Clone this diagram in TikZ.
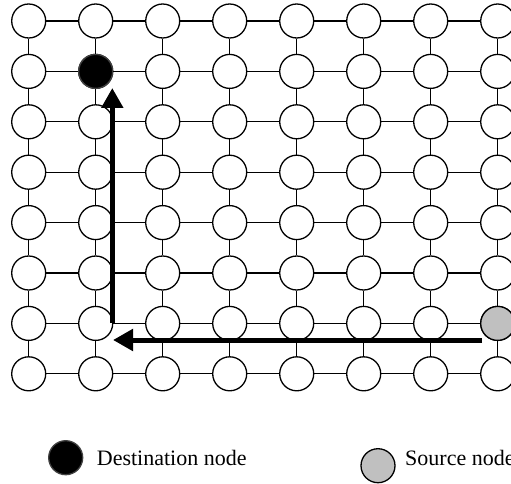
\documentclass[tikz,border=0pt]{standalone}
\usepackage{fontspec}
\setmainfont{Liberation Serif}
\usetikzlibrary{arrows.meta}
\definecolor{srcgray}{HTML}{C0C0C0}
\definecolor{dstedge}{HTML}{404040}
\tikzset{
  gridnode/.style={circle, draw=black, fill=white, line width=1.3pt, minimum size=34pt, inner sep=0pt},
  dstnode/.style={gridnode, fill=black, draw=dstedge},
  srcnode/.style={gridnode, fill=srcgray},
  link/.style={line width=1.3pt, black},
  route/.style={line width=5pt, -{Triangle[length=20pt, width=21pt]}},
  legendtext/.style={anchor=base west, inner sep=0pt, font=\fontsize{22}{26}\selectfont}
}
\begin{document}
\begin{tikzpicture}[x=1pt, y=-1pt]
\useasboundingbox (0,0) rectangle (511,484);
% grid nodes
\foreach \c in {0,...,7} {
  \foreach \r in {0,...,7} {
    \pgfmathsetmacro{\px}{28.7+67*\c}
    \pgfmathsetmacro{\py}{21+50.4*\r}
    \node[gridnode] (n-\c-\r) at (\px,\py) {};
  }
}
\node[dstnode] (n-1-1) at (n-1-1) {};
\node[srcnode] (n-7-6) at (n-7-6) {};
% links
\foreach \c in {0,...,6} {
  \pgfmathtruncatemacro{\cn}{\c+1}
  \foreach \r in {0,...,7} {
    \draw[link] (n-\c-\r) -- (n-\cn-\r);
  }
}
\foreach \c in {0,...,7} {
  \foreach \r in {0,...,6} {
    \pgfmathtruncatemacro{\rn}{\r+1}
    \draw[link] (n-\c-\r) -- (n-\c-\rn);
  }
}
% routes
\coordinate (hstart) at (482,340);
\coordinate (hend) at (113,340);
\coordinate (vstart) at (112.3,323);
\coordinate (vend) at (112.3,88);
\draw[route] (hstart) -- (hend);
\draw[route] (vstart) -- (vend);
% legend
\node[dstnode] (legdst) at (65.7,457.7) {};
\node[legendtext] (legdsttext) at (96.7,465) {Destination node};
\node[srcnode] (legsrc) at (378,465.7) {};
\node[legendtext] (legsrctext) at (405,465) {Source node};
\end{tikzpicture}
\end{document}
